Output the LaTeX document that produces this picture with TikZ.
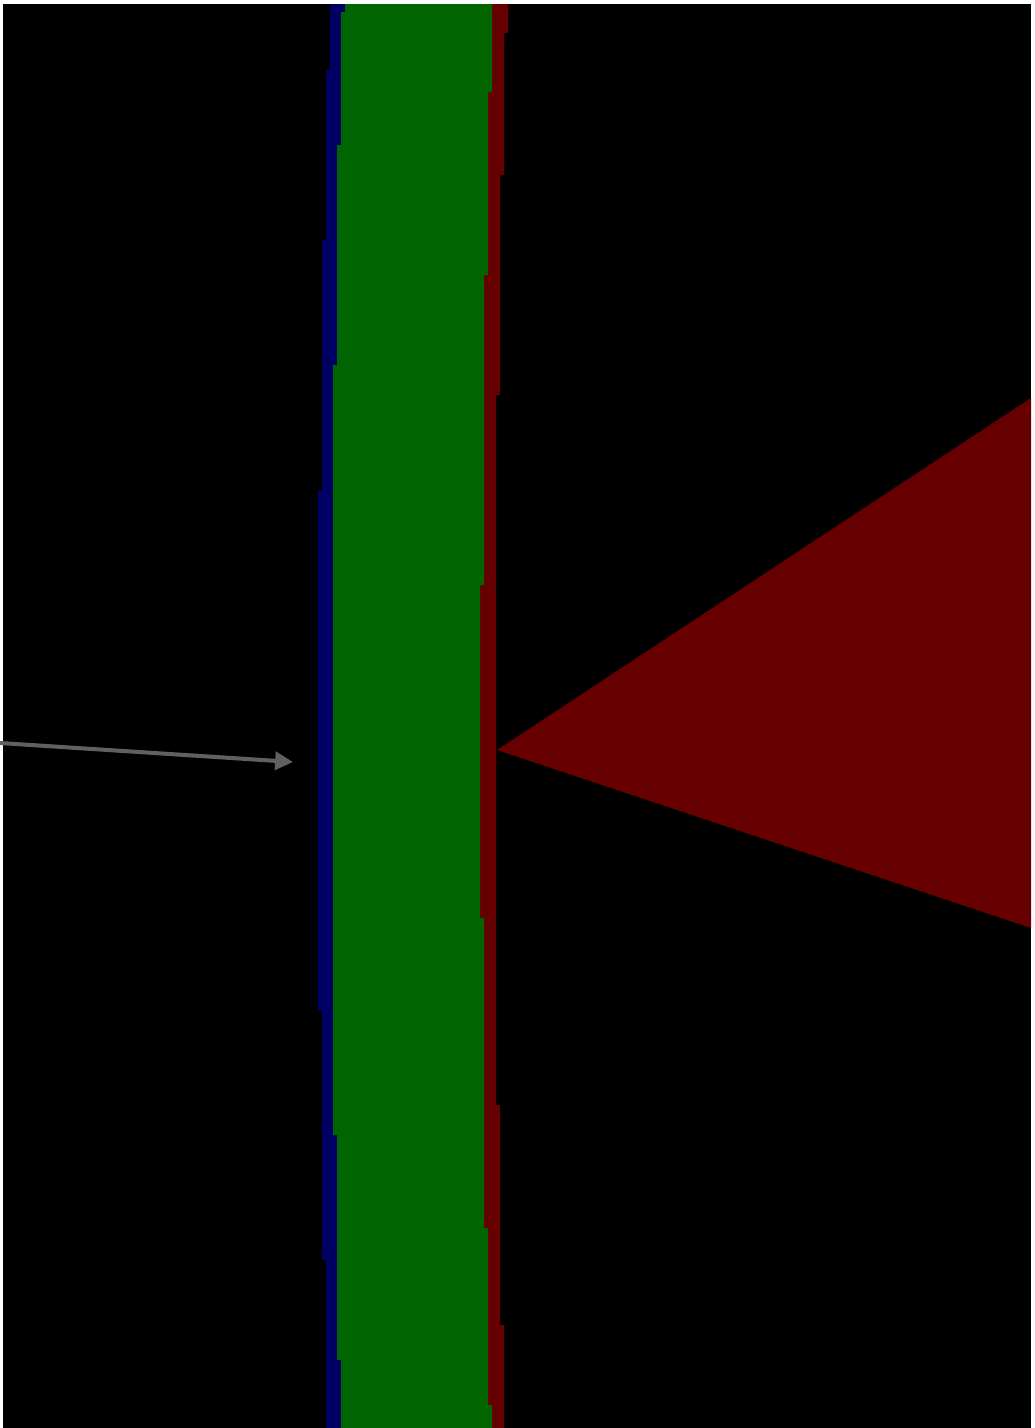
\documentclass[tikz,border=0pt]{standalone}
\usepackage{xcolor}
\usepackage{tikz}
\usetikzlibrary{arrows.meta}
\definecolor{bandgreen}{RGB}{0,100,0}
\definecolor{edgeblue}{RGB}{0,0,100}
\definecolor{edgered}{RGB}{102,0,0}
\definecolor{pointergray}{RGB}{96,96,96}

\begin{document}
\begin{tikzpicture}[
  x=0.02cm, y=-0.02cm,
  backdrop/.style={fill=black},
  blueedge/.style={fill=edgeblue},
  rededge/.style={fill=edgered},
  band/.style={fill=bandgreen},
  wedge/.style={fill=edgered},
  pointer/.style={-{Triangle[length=10.2pt, width=10.2pt]}, draw=pointergray, line width=2.3pt}
]
  \useasboundingbox (0,0) rectangle (1035,1428);
  \fill[backdrop] (3,4) rectangle (1031,1428);

  % stepped edges under the band
  \fill[blueedge] (330,4) -- (330,70) -- (326,70) -- (326,240) -- (322,240) -- (322,490)
    -- (318,490) -- (318,1010) -- (322,1010) -- (322,1260) -- (326,1260) -- (326,1428)
    -- (360,1428) -- (360,4) -- cycle;
  \fill[rededge] (508,4) -- (508,33) -- (504,33) -- (504,175) -- (500,175) -- (500,395)
    -- (496,395) -- (496,1105) -- (500,1105) -- (500,1325) -- (504,1325) -- (504,1428)
    -- (470,1428) -- (470,4) -- cycle;
  \fill[band] (345,4) -- (345,12) -- (341,12) -- (341,145) -- (337,145) -- (337,365)
    -- (333,365) -- (333,1135) -- (337,1135) -- (337,1360) -- (341,1360) -- (341,1428)
    -- (492,1428) -- (492,1405) -- (488,1405) -- (488,1228) -- (484,1228) -- (484,918)
    -- (480,918) -- (480,585) -- (484,585) -- (484,275) -- (488,275) -- (488,92)
    -- (492,92) -- (492,4) -- cycle;

  \fill[wedge] (497,750) -- (1031,398) -- (1031,928) -- cycle;

  \coordinate (src) at (0,743);
  \coordinate (hit) at (293,762);
  \draw[pointer] (src) -- (hit);
\end{tikzpicture}
\end{document}
